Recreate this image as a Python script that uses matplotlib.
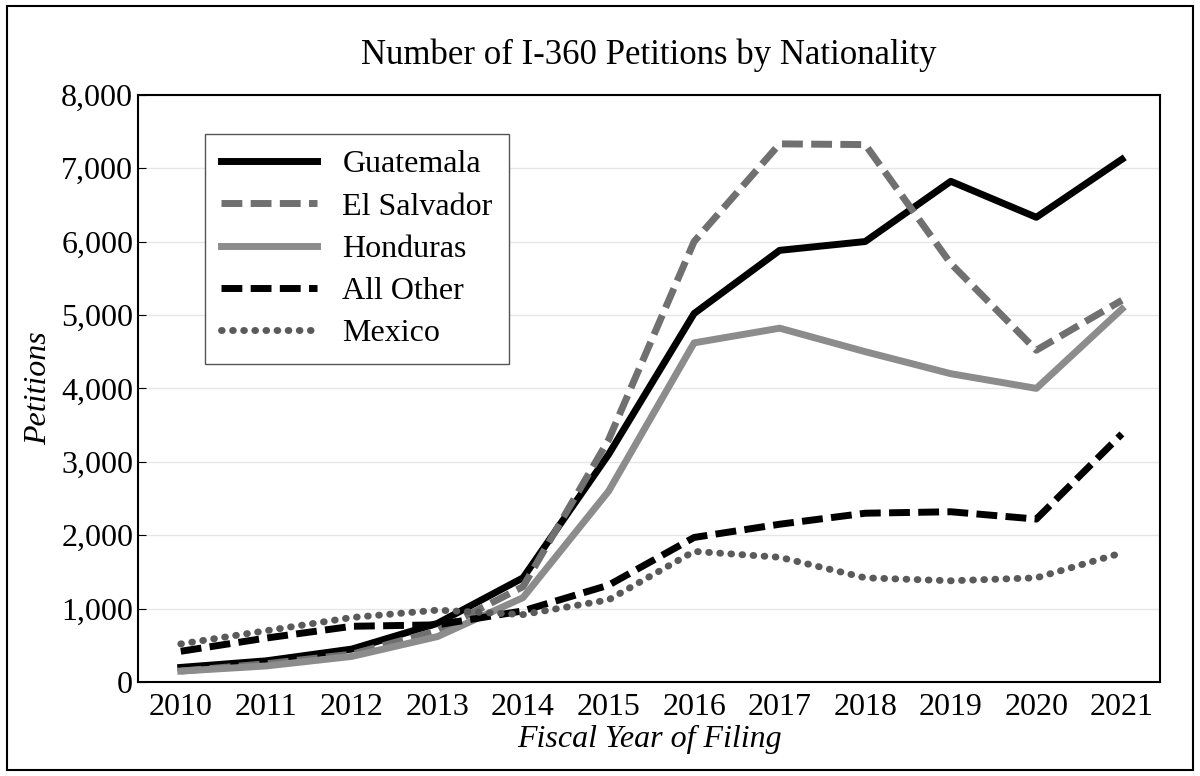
import matplotlib.pyplot as plt
from matplotlib.patches import Rectangle

plt.rcParams['font.family'] = 'Liberation Serif'

years = list(range(2010, 2022))
guatemala = [200, 290, 450, 800, 1420, 3100, 5020, 5880, 6000, 6820, 6330, 7120]
el_salvador = [150, 250, 380, 700, 1300, 3300, 6000, 7330, 7320, 5700, 4520, 5200]
honduras = [150, 220, 350, 620, 1150, 2600, 4620, 4820, 4500, 4200, 4000, 5080]
all_other = [420, 600, 760, 780, 970, 1320, 1970, 2150, 2300, 2320, 2220, 3380]
mexico = [520, 700, 880, 980, 920, 1120, 1780, 1700, 1420, 1380, 1420, 1760]

fig = plt.figure(figsize=(12, 7.76), dpi=100)
ax = fig.add_axes([0.115, 0.121, 0.852, 0.757])
fig.patches.append(Rectangle((0.006, 0.008), 0.988, 0.984, transform=fig.transFigure,
                             fill=False, edgecolor='black', linewidth=1.5))

ax.plot(years, guatemala, color='black', lw=5, label='Guatemala')
ax.plot(years, el_salvador, color='#707070', lw=5, ls=(0, (3, 1.2)), label='El Salvador')
ax.plot(years, honduras, color='#8c8c8c', lw=5, label='Honduras')
ax.plot(years, all_other, color='black', lw=5, ls=(0, (3, 1.2)), label='All Other')
ax.plot(years, mexico, color='#5a5a5a', lw=5, ls=(0, (0.1, 1.5)),
        dash_capstyle='round', label='Mexico')

ax.set_xlim(2009.5, 2021.45)
ax.set_ylim(0, 8000)
ax.set_xticks(years)
ax.set_yticks(range(0, 8001, 1000))
ax.set_yticklabels([f'{v:,}' for v in range(0, 8001, 1000)])
ax.tick_params(labelsize=23, direction='in', length=6)
ax.tick_params(axis='x', length=0, pad=8)
ax.grid(axis='y', color='#e6e6e6', lw=1)
ax.set_axisbelow(True)
for s in ax.spines.values():
    s.set_linewidth(1.5)

ax.set_title('Number of I-360 Petitions by Nationality', fontsize=25, pad=22)
ax.set_xlabel('Fiscal Year of Filing', fontsize=23, style='italic', labelpad=2)
ax.set_ylabel('Petitions', fontsize=23, style='italic', labelpad=6)

leg = ax.legend(loc='upper left', bbox_to_anchor=(0.05, 0.96), fontsize=23,
                handlelength=3.0, fancybox=False, edgecolor='#555555',
                framealpha=1, borderpad=0.5, labelspacing=0.4)
leg.get_frame().set_linewidth(1)

fig.savefig('out.png', dpi=100)
